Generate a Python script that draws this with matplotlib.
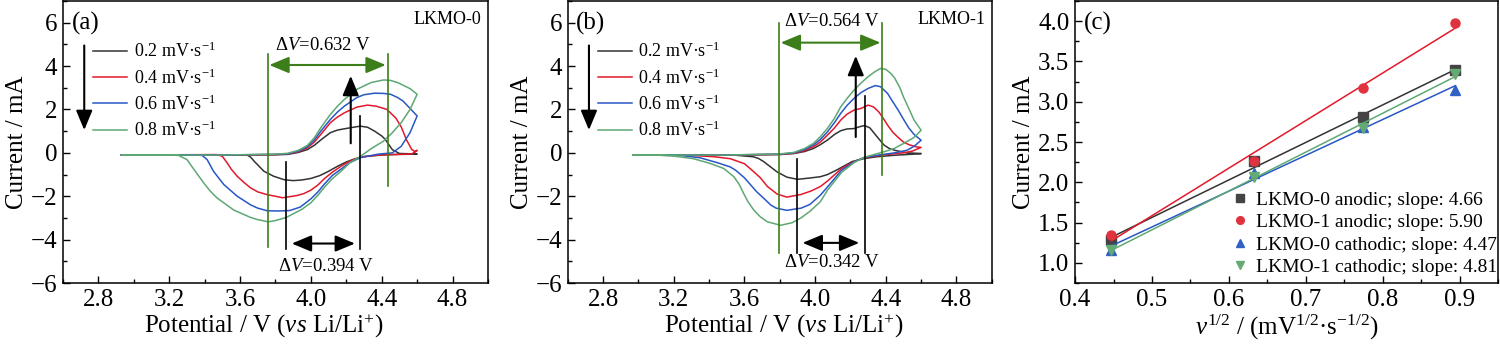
import numpy as np
import matplotlib
matplotlib.use("Agg")
import matplotlib.pyplot as plt
from matplotlib.ticker import MultipleLocator

plt.rcParams['font.family'] = ['Liberation Serif', 'DejaVu Serif']
plt.rcParams['mathtext.fontset'] = 'custom'
plt.rcParams['mathtext.rm'] = 'Liberation Serif'
plt.rcParams['mathtext.it'] = 'Liberation Serif:italic'
plt.rcParams['mathtext.bf'] = 'Liberation Serif:bold'

# ---------------- data ----------------
scan_labels = ['0.2 mV·s$^{-1}$', '0.4 mV·s$^{-1}$', '0.6 mV·s$^{-1}$', '0.8 mV·s$^{-1}$']
scan_rates = [0.2, 0.4, 0.6, 0.8]

# Panel (a) LKMO-0 : closed CV loops (anodic sweep then cathodic sweep)
a02_V = [2.93, 3.5, 3.80, 3.87, 3.93, 3.98, 4.02, 4.06, 4.11, 4.15, 4.19, 4.24, 4.28, 4.32, 4.36, 4.40, 4.42, 4.44, 4.46, 4.50, 4.60,
         4.60, 4.50, 4.40, 4.30, 4.25, 4.20, 4.15, 4.10, 4.05, 4.00, 3.95, 3.90, 3.85, 3.79, 3.735, 3.68, 3.66, 3.64, 2.93]
a02_I = [-0.10, -0.10, -0.09, -0.07, 0.02, 0.15, 0.35, 0.62, 0.93, 1.05, 1.11, 1.18, 1.23, 1.18, 1.00, 0.78, 0.62, 0.38, 0.15, -0.03, -0.05,
         -0.06, -0.07, -0.10, -0.17, -0.27, -0.42, -0.62, -0.85, -1.05, -1.18, -1.25, -1.28, -1.24, -1.08, -0.85, -0.39, -0.20, -0.10, -0.10]

a04_V = [2.93, 3.5, 3.80, 3.87, 3.93, 3.98, 4.02, 4.056, 4.11, 4.15, 4.19, 4.26, 4.32, 4.37, 4.43, 4.48, 4.51, 4.54, 4.57, 4.59, 4.60,
         4.57, 4.50, 4.43, 4.36, 4.28, 4.22, 4.17, 4.12, 4.075, 4.04, 4.00, 3.96, 3.92, 3.84, 3.80, 3.754, 3.70, 3.66, 3.62, 3.584, 3.55, 3.527, 3.50, 3.47, 2.93]
a04_I = [-0.10, -0.10, -0.08, -0.05, 0.05, 0.23, 0.50, 0.85, 1.39, 1.65, 1.85, 2.11, 2.20, 2.15, 2.00, 1.60, 1.20, 0.60, 0.15, 0.05, 0.12,
         -0.05, -0.07, -0.08, -0.12, -0.20, -0.38, -0.62, -0.90, -1.20, -1.48, -1.72, -1.88, -1.97, -2.07, -2.00, -1.93, -1.80, -1.62, -1.35, -1.08, -0.75, -0.46, -0.16, -0.08, -0.10]

a06_V = [2.93, 3.5, 3.80, 3.87, 3.93, 3.98, 4.02, 4.056, 4.11, 4.15, 4.19, 4.26, 4.30, 4.36, 4.41, 4.45, 4.49, 4.52, 4.56, 4.60,
         4.56, 4.51, 4.46, 4.38, 4.28, 4.22, 4.17, 4.12, 4.075, 4.04, 4.00, 3.94, 3.88, 3.82, 3.754, 3.70, 3.66, 3.584, 3.508, 3.45, 3.414, 3.386, 3.35, 2.93]
a06_I = [-0.10, -0.10, -0.07, -0.04, 0.08, 0.28, 0.60, 1.00, 1.54, 1.88, 2.16, 2.55, 2.68, 2.75, 2.74, 2.70, 2.55, 2.39, 2.05, 1.70,
         0.93, 0.30, 0.00, -0.06, -0.22, -0.45, -0.75, -1.05, -1.45, -1.80, -2.12, -2.50, -2.66, -2.68, -2.67, -2.55, -2.40, -2.00, -1.46, -0.85, -0.31, -0.12, -0.10, -0.10]

a08_V = [2.93, 3.5, 3.80, 3.87, 3.93, 3.98, 4.02, 4.056, 4.11, 4.15, 4.19, 4.26, 4.34, 4.41, 4.45, 4.49, 4.53, 4.56, 4.60,
         4.56, 4.51, 4.46, 4.41, 4.34, 4.28, 4.22, 4.17, 4.12, 4.075, 4.04, 4.00, 3.95, 3.86, 3.80, 3.76, 3.70, 3.66, 3.565, 3.47, 3.43, 3.395, 3.34, 3.30, 3.253, 3.20, 2.93]
a08_I = [-0.10, -0.10, -0.06, -0.02, 0.12, 0.34, 0.70, 1.16, 1.77, 2.15, 2.47, 2.93, 3.24, 3.36, 3.34, 3.24, 3.08, 2.96, 2.70,
         2.00, 1.39, 0.93, 0.54, 0.19, -0.16, -0.46, -0.85, -1.20, -1.60, -1.95, -2.30, -2.60, -2.98, -3.12, -3.18, -3.08, -2.98, -2.64, -2.08, -1.75, -1.39, -0.77, -0.31, -0.12, -0.10, -0.10]

# Panel (b) LKMO-1
b02_V = [2.97, 3.5, 3.80, 3.88, 3.94, 3.99, 4.03, 4.07, 4.11, 4.145, 4.18, 4.22, 4.25, 4.28, 4.31, 4.335, 4.36, 4.39, 4.42, 4.45, 4.52, 4.60,
         4.60, 4.45, 4.35, 4.28, 4.21, 4.12, 4.07, 4.03, 3.97, 3.90, 3.84, 3.785, 3.74, 3.71, 3.68, 3.65, 3.55, 2.97]
b02_I = [-0.10, -0.10, -0.08, -0.03, 0.06, 0.20, 0.38, 0.59, 0.85, 1.02, 1.10, 1.12, 1.20, 1.26, 1.15, 0.90, 0.65, 0.36, 0.20, 0.12, 0.00, -0.03,
         -0.04, -0.11, -0.18, -0.26, -0.40, -0.80, -1.00, -1.10, -1.16, -1.22, -1.12, -0.88, -0.60, -0.41, -0.26, -0.18, -0.11, -0.10]

b04_V = [2.97, 3.5, 3.80, 3.88, 3.94, 3.99, 4.03, 4.07, 4.11, 4.145, 4.18, 4.22, 4.26, 4.30, 4.33, 4.36, 4.385, 4.41, 4.44, 4.47, 4.50, 4.53, 4.57, 4.60,
         4.55, 4.50, 4.45, 4.38, 4.28, 4.22, 4.15, 4.07, 4.03, 3.98, 3.92, 3.84, 3.785, 3.73, 3.69, 3.65, 3.60, 3.52, 3.43, 3.30, 2.97]
b04_I = [-0.10, -0.10, -0.07, -0.02, 0.10, 0.28, 0.50, 0.82, 1.15, 1.51, 1.78, 1.97, 2.05, 2.20, 2.12, 1.89, 1.60, 1.28, 0.95, 0.71, 0.50, 0.38, 0.28, 0.25,
         0.08, 0.00, -0.04, -0.10, -0.22, -0.40, -0.72, -1.30, -1.55, -1.75, -1.92, -2.04, -1.90, -1.55, -1.15, -0.85, -0.50, -0.27, -0.18, -0.12, -0.10]

b06_V = [2.97, 3.5, 3.80, 3.88, 3.94, 3.99, 4.03, 4.07, 4.11, 4.145, 4.18, 4.22, 4.26, 4.30, 4.34, 4.37, 4.41, 4.44, 4.47, 4.50, 4.53, 4.56, 4.60,
         4.56, 4.52, 4.45, 4.38, 4.28, 4.22, 4.15, 4.07, 4.03, 3.97, 3.92, 3.84, 3.78, 3.75, 3.71, 3.67, 3.60, 3.55, 3.52, 3.445, 3.35, 3.24, 2.97]
b06_I = [-0.10, -0.10, -0.06, 0.00, 0.15, 0.36, 0.62, 0.97, 1.40, 1.82, 2.18, 2.51, 2.78, 2.97, 3.10, 3.05, 2.74, 2.35, 1.97, 1.55, 1.15, 0.85, 0.58,
         0.30, 0.12, 0.00, -0.08, -0.20, -0.42, -0.80, -1.57, -1.95, -2.38, -2.55, -2.65, -2.55, -2.41, -2.10, -1.80, -1.15, -0.80, -0.65, -0.45, -0.23, -0.12, -0.10]

b08_V = [2.97, 3.5, 3.80, 3.88, 3.94, 3.99, 4.03, 4.07, 4.11, 4.145, 4.18, 4.22, 4.26, 4.30, 4.34, 4.37, 4.40, 4.43, 4.45, 4.48, 4.50, 4.53, 4.56, 4.60,
         4.56, 4.50, 4.447, 4.39, 4.28, 4.22, 4.15, 4.07, 4.03, 3.97, 3.92, 3.87, 3.805, 3.73, 3.69, 3.653, 3.62, 3.596, 3.57, 3.54, 3.483, 3.407, 3.312, 3.20, 3.10, 2.97]
b08_I = [-0.10, -0.10, -0.05, 0.02, 0.20, 0.43, 0.75, 1.13, 1.60, 2.12, 2.50, 2.89, 3.22, 3.51, 3.75, 3.89, 3.85, 3.65, 3.45, 3.00, 2.58, 2.05, 1.51, 1.04,
         0.71, 0.43, 0.20, 0.05, -0.20, -0.45, -0.90, -1.72, -2.25, -2.70, -3.00, -3.22, -3.34, -3.18, -2.95, -2.64, -2.25, -1.88, -1.45, -1.10, -0.72, -0.49, -0.27, -0.15, -0.10, -0.10]

# Panel (c): peak currents vs square root of scan rate
sqrt_rate = np.sqrt(scan_rates)
lkmo0_anodic = [1.28, 2.26, 2.81, 3.39]
lkmo1_anodic = [1.34, 2.27, 3.17, 3.98]
lkmo0_cathodic = [1.16, 2.11, 2.69, 3.15]
lkmo1_cathodic = [1.16, 2.07, 2.67, 3.35]
fit_labels = ['LKMO-0 anodic; slope: 4.66', 'LKMO-1 anodic; slope: 5.90',
              'LKMO-0 cathodic; slope: 4.47', 'LKMO-1 cathodic; slope: 4.81']

# ---------------- styling ----------------
cv_colors = ['#333333', '#e3192b', '#2857c5', '#5ea873']
marker_colors = ['#444444', '#e0323f', '#2f62c2', '#64aa74']
markers = ['s', 'o', '^', 'v']
ann_green = '#3c7e1a'
TICK_FS = 18
LABEL_FS = 18

fig = plt.figure(figsize=(15, 3.45), dpi=100)
axa = fig.add_axes([0.042, 0.1797, 0.2833, 0.8174])
axb = fig.add_axes([0.3785, 0.1797, 0.2827, 0.8174])
axc = fig.add_axes([0.7167, 0.1797, 0.2820, 0.8174])

def style_axis(ax):
    for s in ax.spines.values():
        s.set_linewidth(1.1)
    ax.tick_params(which='both', direction='in', top=False, right=False, labelsize=TICK_FS, width=1.0, pad=4)
    ax.tick_params(which='major', length=5)
    ax.tick_params(which='minor', length=3)

def arrow(ax, x0, y0, x1, y1, color, both=False):
    style = '<|-|>' if both else '-|>'
    ax.annotate('', xy=(x1, y1), xytext=(x0, y0),
                arrowprops=dict(arrowstyle=style + ',head_length=0.6,head_width=0.25',
                                color=color, lw=1.5, shrinkA=0, shrinkB=0, mutation_scale=20))

def cv_panel(ax, loops, tag, name, xlab_x, gl, gr, g_top, g_bot_l, g_bot_r, g_arrow_y, g_text, bl, br, b_top_l, b_top_r, b_bot, b_arrow_y, b_text, b_text_y, up):
    for (V, I), c, lab in zip(loops, cv_colors, scan_labels):
        ax.plot(V, I, color=c, lw=1.1, label=lab)
    ax.set_xlim(2.6, 5.0)
    ax.set_ylim(-6, 7)
    ax.xaxis.set_minor_locator(MultipleLocator(0.2))
    ax.yaxis.set_minor_locator(MultipleLocator(1))
    ax.set_xticks([2.8, 3.2, 3.6, 4.0, 4.4, 4.8])
    ax.set_xticklabels(['2.8', '3.2', '3.6', '4.0', '4.4', '4.8'])
    ax.set_yticks([-6, -4, -2, 0, 2, 4, 6])
    style_axis(ax)
    ax.set_xlabel('Potential / V ($\\it{vs}$ Li/Li$^{+}$)', fontsize=LABEL_FS, labelpad=4)
    ax.xaxis.set_label_coords(xlab_x, -0.105, transform=ax.transAxes)
    ax.set_ylabel('Current / mA', fontsize=LABEL_FS, labelpad=2)
    # green (outer) markers
    ax.plot([gl, gl], [g_bot_l, g_top], color=ann_green, lw=1.2)
    ax.plot([gr, gr], [g_bot_r, g_top], color=ann_green, lw=1.2)
    arrow(ax, gl + 0.01, g_arrow_y, gr - 0.01, g_arrow_y, ann_green, both=True)
    ax.text(g_text[0], g_text[1], 'Δ$\\it{V}$=' + g_text[2], fontsize=13.5, ha='center', va='center')
    # black (inner) markers
    ax.plot([bl, bl], [b_bot, b_top_l], color='black', lw=1.2)
    ax.plot([br, br], [b_bot, b_top_r], color='black', lw=1.2)
    arrow(ax, bl + 0.03, b_arrow_y, br - 0.03, b_arrow_y, 'black', both=True)
    ax.text(b_text[0], b_text_y, 'Δ$\\it{V}$=' + b_text[1], fontsize=13.5, ha='center', va='center')
    # up arrow and down arrow
    arrow(ax, up[0], up[1], up[0], up[2], 'black')
    arrow(ax, 2.72, 4.95, 2.72, 1.05, 'black')
    ax.text(0.02, 0.96, tag, transform=ax.transAxes, fontsize=18, ha='left', va='top')
    ax.text(0.985, 0.965, name, transform=ax.transAxes, fontsize=13, ha='right', va='top')
    ax.legend(loc='upper left', bbox_to_anchor=(0.071, 0.855), frameon=False, fontsize=13,
              handlelength=1.9, handletextpad=0.35, labelspacing=0.38, borderpad=0, borderaxespad=0)

cv_panel(axa, [(a02_V, a02_I), (a04_V, a04_I), (a06_V, a06_I), (a08_V, a08_I)], '(a)', 'LKMO-0', 0.473,
         gl=3.755, gr=4.433, g_top=4.55, g_bot_l=-4.35, g_bot_r=-1.55, g_arrow_y=4.05,
         g_text=(4.07, 4.95, '0.632 V'),
         bl=3.862, br=4.279, b_top_l=-0.4, b_top_r=1.7, b_bot=-4.45, b_arrow_y=-4.18,
         b_text=(4.085, '0.394 V'), b_text_y=-5.25, up=(4.225, 0.44, 3.55))

cv_panel(axb, [(b02_V, b02_I), (b04_V, b04_I), (b06_V, b06_I), (b08_V, b08_I)], '(b)', 'LKMO-1', 0.51,
         gl=3.795, gr=4.38, g_top=6.0, g_bot_l=-4.6, g_bot_r=-1.02, g_arrow_y=5.08,
         g_text=(4.095, 6.05, '0.564 V'),
         bl=3.899, br=4.28, b_top_l=-0.3, b_top_r=2.64, b_bot=-4.6, b_arrow_y=-4.15,
         b_text=(4.095, '0.342 V'), b_text_y=-5.05, up=(4.23, 0.73, 4.47))

# Panel (c)
series_c = [lkmo0_anodic, lkmo1_anodic, lkmo0_cathodic, lkmo1_cathodic]
line_colors = ['#333333', '#e3192b', '#2857c5', '#5ea873']
for ys, mk, mc, lc, lab in zip(series_c, markers, marker_colors, line_colors, fit_labels):
    k, b = np.polyfit(sqrt_rate, ys, 1)
    xs = np.array([sqrt_rate[0], sqrt_rate[-1]])
    axc.plot(xs, k * xs + b, color=lc, lw=1.1)
    axc.plot(sqrt_rate, ys, linestyle='none', marker=mk, color=mc, markersize=6.5, label=lab)
axc.set_xlim(0.4, 0.95)
axc.set_ylim(0.75, 4.25)
axc.xaxis.set_minor_locator(MultipleLocator(0.05))
axc.yaxis.set_minor_locator(MultipleLocator(0.25))
axc.set_xticks([0.4, 0.5, 0.6, 0.7, 0.8, 0.9])
axc.set_xticklabels(['0.4', '0.5', '0.6', '0.7', '0.8', '0.9'])
axc.set_yticks([1.0, 1.5, 2.0, 2.5, 3.0, 3.5, 4.0])
axc.set_yticklabels(['1.0', '1.5', '2.0', '2.5', '3.0', '3.5', '4.0'])
style_axis(axc)
axc.set_xlabel('$\\it{v}^{1/2}$ / (mV$^{1/2}$·s$^{-1/2}$)', fontsize=LABEL_FS, labelpad=1)
axc.xaxis.set_label_coords(0.5, -0.105, transform=axc.transAxes)
axc.set_ylabel('Current / mA', fontsize=LABEL_FS, labelpad=2)
axc.text(0.02, 0.96, '(c)', transform=axc.transAxes, fontsize=18, ha='left', va='top')
axc.legend(loc='lower right', bbox_to_anchor=(1.0, 0.022), frameon=False, fontsize=14, handlelength=0.9,
           handletextpad=0.35, labelspacing=0.24, borderpad=0.05, borderaxespad=0.0, markerscale=0.85)

fig.savefig('out.png', dpi=100)
